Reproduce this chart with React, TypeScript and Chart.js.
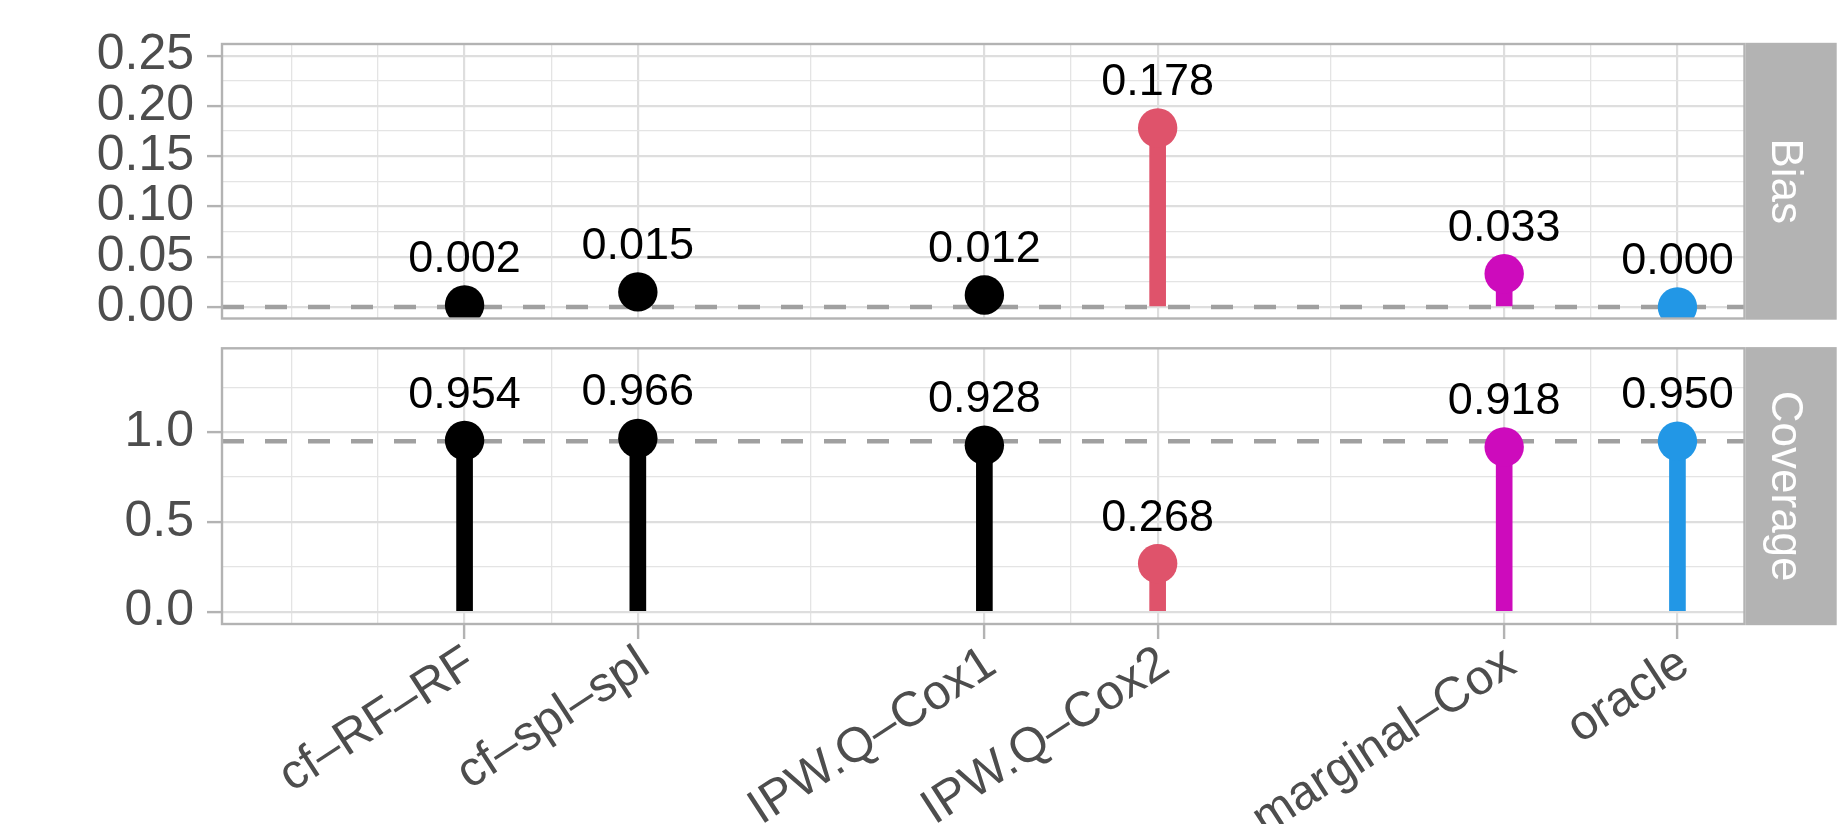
import React, { useEffect, useRef } from 'react';
import { Chart, registerables } from 'chart.js';

Chart.register(...registerables);

// ---------- data ----------
const METHODS = ['cf–RF–RF', 'cf–spl–spl', 'IPW.Q–Cox1', 'IPW.Q–Cox2', 'marginal–Cox', 'oracle'];
const POSITIONS = [1, 2, 4, 5, 7, 8];
const COLORS = ['#000000', '#000000', '#000000', '#DF536B', '#CD0BBC', '#2297E6'];
const BIAS = [0.002, 0.015, 0.012, 0.178, 0.033, 0.0];
const COVERAGE = [0.954, 0.966, 0.928, 0.268, 0.918, 0.95];
const BIAS_REF = 0;
const COVERAGE_REF = 0.95;
const X_GRID = [0, 0.5, 1, 1.5, 2, 3, 4, 4.5, 5, 6, 7, 7.5, 8];
const BIAS_TICKS = [0, 0.025, 0.05, 0.075, 0.1, 0.125, 0.15, 0.175, 0.2, 0.225, 0.25];
const BIAS_MAJOR = [0, 0.05, 0.1, 0.15, 0.2, 0.25];
const COVERAGE_TICKS = [0, 0.25, 0.5, 0.75, 1.0, 1.25];
const COVERAGE_MAJOR = [0, 0.5, 1.0];

const X_MIN = -0.4;
const X_MAX = 8.387;
const FONT = '"Liberation Sans", Arial, Helvetica, sans-serif';

const isIn = (v: number, arr: number[]) => arr.some((m) => Math.abs(m - v) < 1e-9);

type PanelOpts = {
  values: number[];
  ref: number;
  yMin: number;
  yMax: number;
  yTicks: number[];
  yMajor: number[];
  digits: number;
  strip: string;
  padTop: number;
  padBottom: number;
  xHeight: number;
  showX: boolean;
};

function panelPlugin(values: number[], strip: string) {
  return {
    id: 'panelDeco',
    afterDatasetsDraw(chart: any) {
      const ctx = chart.ctx;
      const xs = chart.scales.x;
      const ys = chart.scales.y;
      ctx.save();
      ctx.fillStyle = '#000000';
      ctx.font = `45px ${FONT}`;
      ctx.textAlign = 'center';
      ctx.textBaseline = 'alphabetic';
      values.forEach((v, i) => {
        ctx.fillText(v.toFixed(3), xs.getPixelForValue(POSITIONS[i]), ys.getPixelForValue(v) - 33);
      });
      ctx.restore();
    },
    afterDraw(chart: any) {
      const ctx = chart.ctx;
      const { left, right, top, bottom } = chart.chartArea;
      ctx.save();
      ctx.strokeStyle = '#b3b3b3';
      ctx.lineWidth = 2.4;
      ctx.strokeRect(left, top, right - left, bottom - top);
      const sx = right + 1.2;
      ctx.fillStyle = '#b3b3b3';
      ctx.fillRect(sx, top - 1.2, 1836.7 - sx, bottom - top + 2.4);
      ctx.translate(1784, (top + bottom) / 2);
      ctx.rotate(Math.PI / 2);
      ctx.fillStyle = '#ffffff';
      ctx.font = `44px ${FONT}`;
      ctx.textAlign = 'center';
      ctx.textBaseline = 'middle';
      ctx.fillText(strip, 0, 0);
      ctx.restore();
    },
  };
}

function makeChart(canvas: HTMLCanvasElement, o: PanelOpts) {
  const pts = POSITIONS.map((x, i) => ({ x, y: o.values[i] }));
  return new Chart(canvas, {
    type: 'bar',
    data: {
      datasets: [
        {
          type: 'scatter',
          data: pts,
          pointRadius: 19.7,
          pointHoverRadius: 19.7,
          pointBackgroundColor: COLORS,
          pointBorderWidth: 0,
          borderWidth: 0,
          order: 0,
          clip: 0,
        } as any,
        {
          type: 'bar',
          data: pts,
          backgroundColor: COLORS,
          barThickness: 16,
          borderWidth: 0,
          order: 1,
          clip: 0,
        } as any,
        {
          type: 'line',
          data: [
            { x: X_MIN, y: o.ref },
            { x: X_MAX, y: o.ref },
          ],
          borderColor: '#a0a0a0',
          borderWidth: 4.5,
          borderDash: [22, 21],
          pointRadius: 0,
          fill: false,
          order: 2,
          clip: 0,
        } as any,
      ],
    },
    options: {
      responsive: false,
      animation: false,
      events: [],
      plugins: { legend: { display: false }, tooltip: { enabled: false } },
      layout: { padding: { left: 0, right: 1841 - 1744.5, top: o.padTop, bottom: o.padBottom } },
      scales: {
        x: {
          type: 'linear',
          min: X_MIN,
          max: X_MAX,
          offset: false,
          afterBuildTicks: (s: any) => {
            s.ticks = X_GRID.map((v) => ({ value: v }));
          },
          afterFit: (s: any) => {
            s.height = o.xHeight;
          },
          border: { display: false },
          grid: {
            offset: false,
            drawTicks: o.showX,
            tickLength: 15,
            color: (c: any) => (c.tick && isIn(c.tick.value, POSITIONS) ? '#dedede' : '#e4e4e4'),
            lineWidth: (c: any) => (c.tick && isIn(c.tick.value, POSITIONS) ? 2.2 : 1.3),
            tickColor: (c: any) => (c.tick && isIn(c.tick.value, POSITIONS) ? '#b3b3b3' : 'rgba(0,0,0,0)'),
            tickWidth: 2.4,
          },
          ticks: {
            display: o.showX,
            autoSkip: false,
            maxRotation: 33,
            minRotation: 33,
            padding: -4,
            labelOffset: 7,
            color: '#4d4d4d',
            font: { family: FONT, size: 49 },
            callback: (v: any) => {
              const idx = POSITIONS.findIndex((p) => Math.abs(p - Number(v)) < 1e-9);
              return idx >= 0 ? METHODS[idx] : '';
            },
          },
        },
        y: {
          type: 'linear',
          min: o.yMin,
          max: o.yMax,
          afterBuildTicks: (s: any) => {
            s.ticks = o.yTicks.map((v) => ({ value: v }));
          },
          afterFit: (s: any) => {
            s.width = 222;
          },
          border: { display: false },
          grid: {
            drawTicks: true,
            tickLength: 15,
            color: (c: any) => (c.tick && isIn(c.tick.value, o.yMajor) ? '#dedede' : '#e4e4e4'),
            lineWidth: (c: any) => (c.tick && isIn(c.tick.value, o.yMajor) ? 2.2 : 1.3),
            tickColor: (c: any) => (c.tick && isIn(c.tick.value, o.yMajor) ? '#b3b3b3' : 'rgba(0,0,0,0)'),
            tickWidth: 2.4,
          },
          ticks: {
            autoSkip: false,
            padding: 13,
            color: '#4d4d4d',
            font: { family: FONT, size: 50 },
            callback: (v: any) => (isIn(Number(v), o.yMajor) ? Number(v).toFixed(o.digits) : ''),
          },
        },
      },
    } as any,
    plugins: [panelPlugin(o.values, o.strip)],
  });
}

export default function App() {
  const topRef = useRef<HTMLCanvasElement>(null);
  const botRef = useRef<HTMLCanvasElement>(null);

  useEffect(() => {
    const top = makeChart(topRef.current!, {
      values: BIAS,
      ref: BIAS_REF,
      yMin: -0.01144,
      yMax: 0.2616,
      yTicks: BIAS_TICKS,
      yMajor: BIAS_MAJOR,
      digits: 2,
      strip: 'Bias',
      padTop: 44,
      padBottom: 828 - 318.5,
      xHeight: 0,
      showX: false,
    });
    const bot = makeChart(botRef.current!, {
      values: COVERAGE,
      ref: COVERAGE_REF,
      yMin: -0.0686,
      yMax: 1.468,
      yTicks: COVERAGE_TICKS,
      yMajor: COVERAGE_MAJOR,
      digits: 1,
      strip: 'Coverage',
      padTop: 348.3,
      padBottom: 4,
      xHeight: 828 - 624 - 4,
      showX: true,
    });
    return () => {
      top.destroy();
      bot.destroy();
    };
  }, []);

  return (
    <div style={{ position: 'absolute', left: 0, top: 0, width: 1841, height: 828, background: '#ffffff', overflow: 'hidden' }}>
      <canvas ref={topRef} width={1841} height={828} style={{ position: 'absolute', left: 0, top: 0 }} />
      <canvas ref={botRef} width={1841} height={828} style={{ position: 'absolute', left: 0, top: 0 }} />
    </div>
  );
}
